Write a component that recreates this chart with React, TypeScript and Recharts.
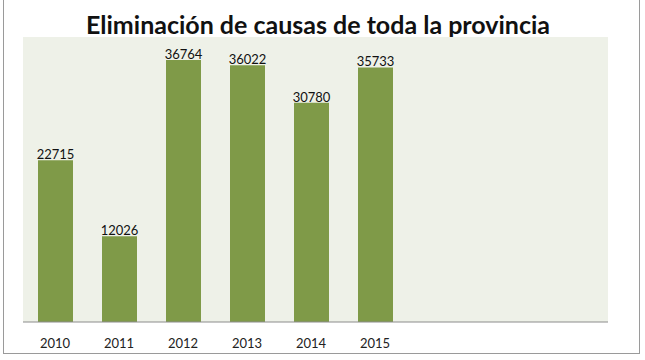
import { BarChart, Bar, XAxis, YAxis, CartesianGrid, LabelList } from 'recharts'

const years = ['2010', '2011', '2012', '2013', '2014', '2015', '', ' ', '  ']
const causas = [22715, 12026, 36764, 36022, 30780, 35733, null, null, null]

const data = years.map((year, i) => ({ year, causas: causas[i] }))

export default function App() {
  return (
    <div style={{ position: 'fixed', left: 0, top: 0, width: 645, height: 360, background: '#fff' }}>
      <div
        style={{
          position: 'absolute',
          left: 3,
          top: -2,
          width: 635,
          height: 354,
          border: '1px solid #9a9a9a',
        }}
      />
      <div
        style={{
          position: 'absolute',
          left: 0,
          top: 8,
          width: 636,
          textAlign: 'center',
          fontFamily: 'Lato, sans-serif',
          fontWeight: 700,
          fontSize: 25,
          color: '#111',
          lineHeight: '32px',
        }}
      >
        Eliminación de causas de toda la provincia
      </div>
      <BarChart
        width={645}
        height={360}
        data={data}
        margin={{ top: 37, right: 37, bottom: 0, left: 23 }}
        style={{ position: 'absolute', left: 0, top: 0 }}
      >
        <CartesianGrid fill="#eef1e8" stroke="none" vertical={false} horizontal={false} />
        <XAxis
          dataKey="year"
          height={38}
          padding={{ left: 0, right: 9 }}
          tickLine={false}
          axisLine={{ stroke: '#8c8c8c' }}
          tick={{ fill: '#222', fontSize: 13, fontFamily: 'Lato, sans-serif' }}
          tickMargin={11}
          interval={0}
        />
        <YAxis hide domain={[0, 40000]} />
        <Bar dataKey="causas" fill="#7f9a48" barSize={35} isAnimationActive={false}>
          <LabelList
            dataKey="causas"
            position="top"
            offset={1}
            style={{ fill: '#111', fontSize: 13, fontFamily: 'Lato, sans-serif' }}
          />
        </Bar>
      </BarChart>
    </div>
  )
}
